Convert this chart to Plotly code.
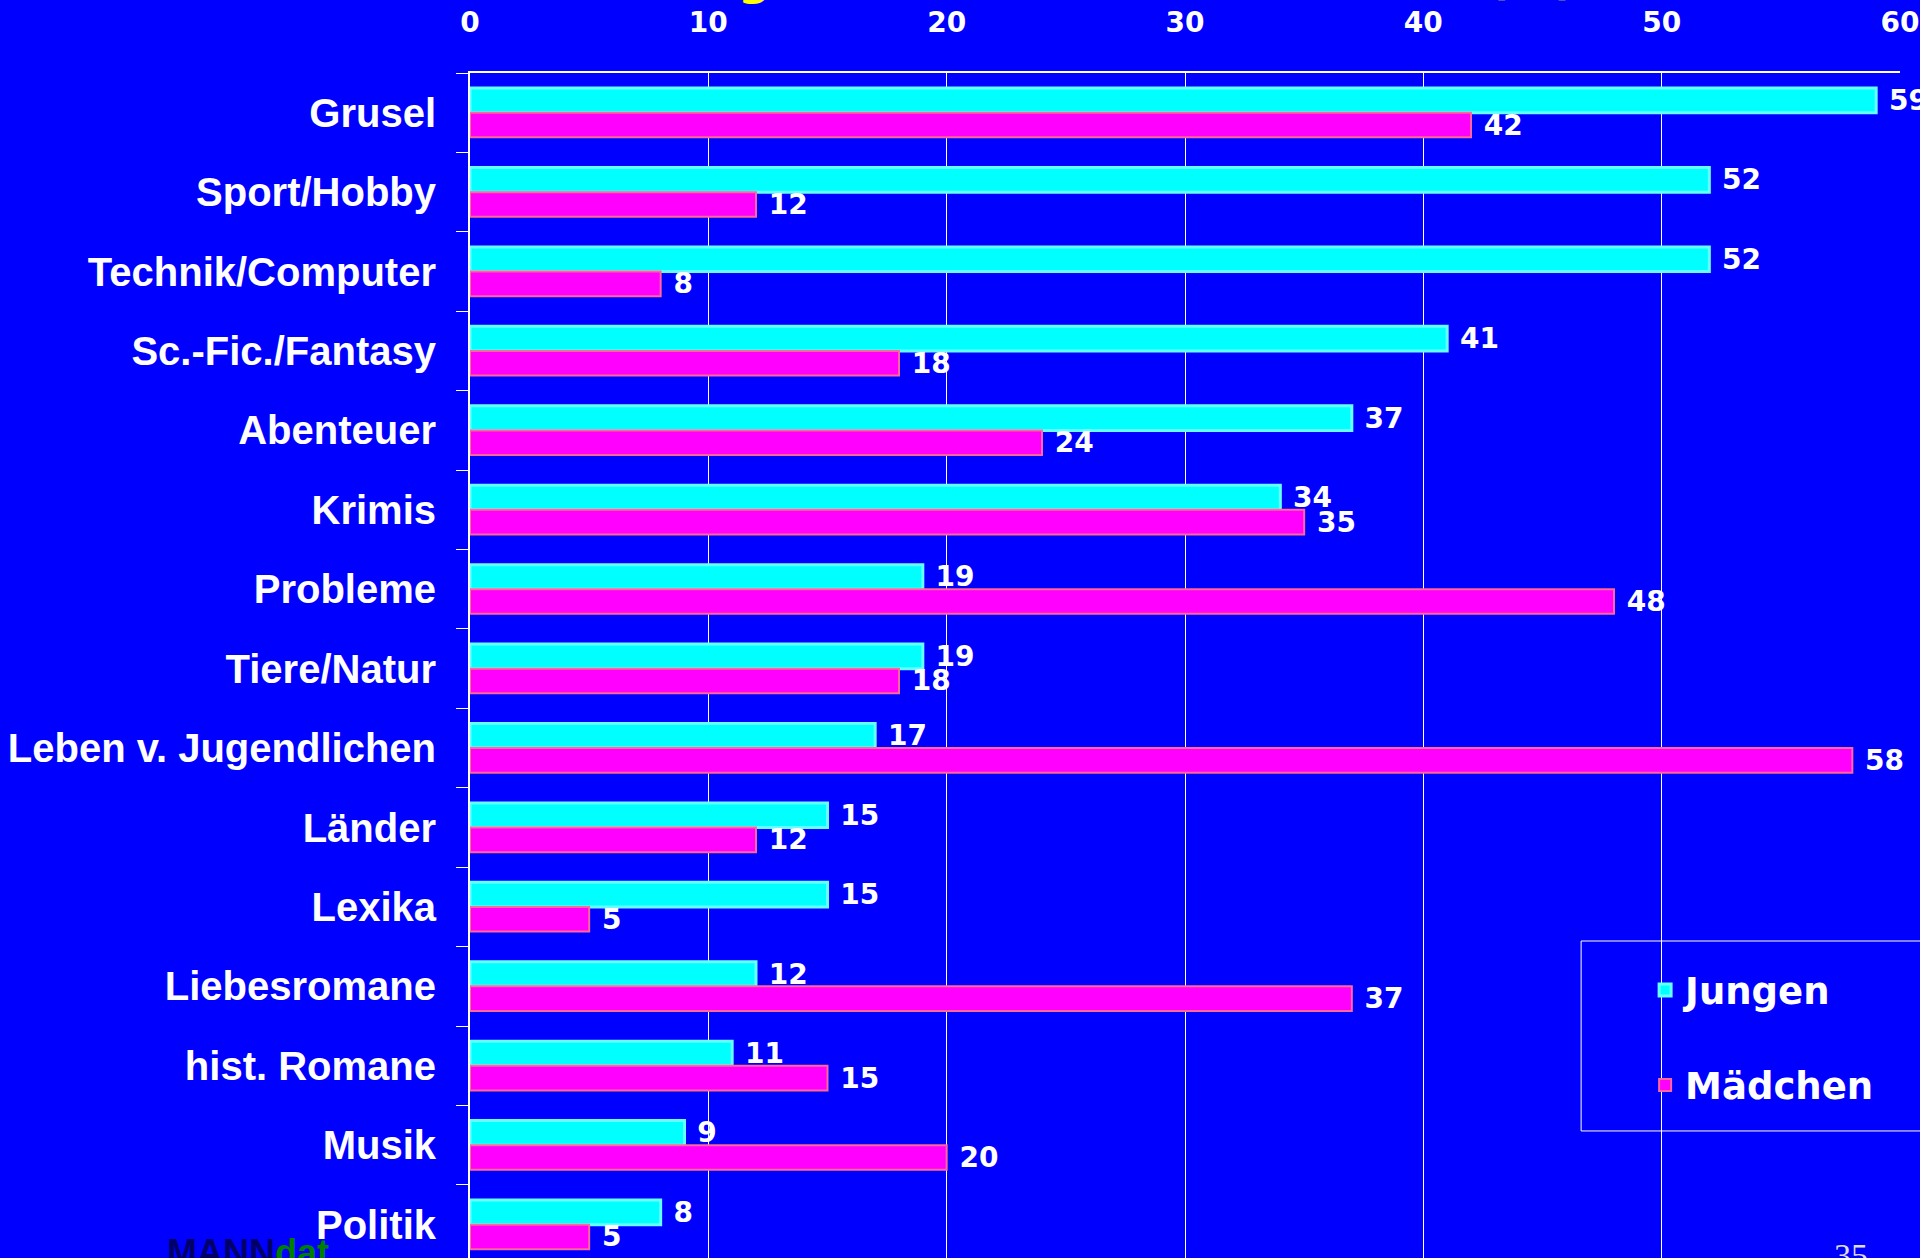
import plotly.graph_objects as go

# Leseinteressen nach Themen, Angaben in Prozent
themen = ["Grusel", "Sport/Hobby", "Technik/Computer", "Sc.-Fic./Fantasy", "Abenteuer",
          "Krimis", "Probleme", "Tiere/Natur", "Leben v. Jugendlichen", "Länder",
          "Lexika", "Liebesromane", "hist. Romane", "Musik", "Politik"]
jungen = [59, 52, 52, 41, 37, 34, 19, 19, 17, 15, 15, 12, 11, 9, 8]
maedchen = [42, 12, 8, 18, 24, 35, 48, 18, 58, 12, 5, 37, 15, 20, 5]
x_ticks = [0, 10, 20, 30, 40, 50, 60]

BLUE = "#0000FF"
NUM_FONT = dict(family="DejaVu Sans", size=28, color="white", weight="bold")
PAD = "\u00a0"  # etwas Abstand zwischen Balkenende und Wert

fig = go.Figure()
fig.add_trace(go.Bar(
    y=themen, x=jungen, name="Jungen", orientation="h", legendgroup="j",
    marker=dict(color="#00FFFF", line=dict(color="#66FFFF", width=3)),
    texttemplate=PAD + "%{x}", textposition="outside", textfont=NUM_FONT,
    constraintext="none", cliponaxis=False,
))
fig.add_trace(go.Bar(
    y=themen, x=maedchen, name="Mädchen", orientation="h", legendgroup="m",
    marker=dict(color="#FF00FF", line=dict(color="#FF6699", width=2)),
    texttemplate=PAD + "%{x}", textposition="outside", textfont=NUM_FONT,
    constraintext="none", cliponaxis=False,
))

fig.update_layout(
    width=1920, height=1258,
    paper_bgcolor=BLUE, plot_bgcolor=BLUE,
    margin=dict(l=470, r=20, t=73, b=0),
    barmode="group", bargap=0.38, bargroupgap=0,
    showlegend=True,
    legend=dict(
        x=0.777, y=0.252, xanchor="left", yanchor="top",
        bgcolor="rgba(0,0,0,0)", borderwidth=0,
        font=dict(family="DejaVu Sans", size=37, color="white", weight="bold"),
        tracegroupgap=44, indentation=64, traceorder="grouped",
    ),
)
# Rahmen um die Legende (läuft wie im Original über den rechten Rand)
fig.add_shape(
    type="rect", xref="paper", yref="paper", x0=0.777, x1=1.05, y0=0.1072, y1=0.2675,
    line=dict(color="white", width=1), fillcolor="rgba(0,0,0,0)", layer="above",
)
fig.update_xaxes(
    side="top", range=[0, 60], tickvals=x_ticks,
    showgrid=True, gridcolor="white", gridwidth=1,
    showline=True, linecolor="white", linewidth=2,
    zeroline=False, ticks="", ticklabelstandoff=28,
    tickfont=NUM_FONT,
)
fig.update_yaxes(
    range=[14.42, -0.5], showgrid=False,
    showline=True, linecolor="white", linewidth=2,
    ticks="outside", tickson="boundaries", ticklen=12, tickcolor="white",
    ticklabelstandoff=24,
    tickfont=dict(family="Liberation Sans", size=40, color="white", weight="bold"),
)

# Titel (oben abgeschnitten), Logo und Seitenzahl
fig.add_annotation(
    text="Bevorzugte Lesestoffe nach Themen (%)", xref="paper", yref="paper",
    x=0.775, y=1, xanchor="right", yanchor="bottom", yshift=66, showarrow=False,
    font=dict(family="DejaVu Sans", size=46, color="#FFFF00", weight="bold"),
)
fig.add_annotation(
    text="<span style='color:#000066'>MANN</span><span style='color:#008000'>dat</span>",
    xref="paper", yref="paper", x=-0.2133, y=0.0236, xanchor="left", yanchor="top",
    showarrow=False, font=dict(family="Liberation Sans", size=36, weight="bold"),
)
fig.add_annotation(
    text="35", xref="paper", yref="paper", x=0.9524, y=0.019,
    xanchor="left", yanchor="top", showarrow=False,
    font=dict(family="Liberation Serif", size=34, color="#DDDDDD"),
)

fig.write_html("out.html", config={"displayModeBar": False},
               post_script="document.body.style.margin='0';")
